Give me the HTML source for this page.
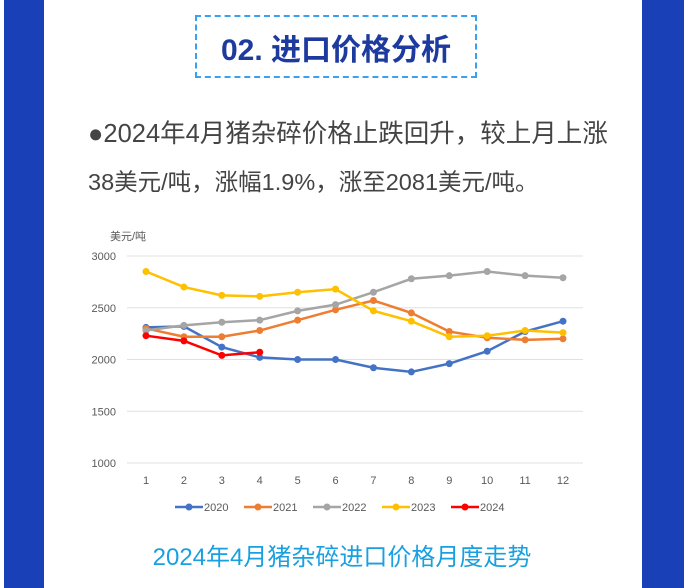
<!DOCTYPE html>
<html><head><meta charset="utf-8"><style>
body{margin:0;width:684px;height:588px;overflow:hidden;background:#fff;font-family:"Liberation Sans","Noto Sans CJK SC",sans-serif;position:relative}
.band{position:absolute;top:0;height:588px;background:#1a40b8}
#title{position:absolute;left:195px;top:15px;width:278px;height:59px;border:2px dashed #3aa0f0;display:flex;align-items:center;justify-content:center;color:#1d3a9e;font-weight:bold;font-size:30px}
.para{position:absolute;left:88px;color:#444;white-space:nowrap}
#cap{position:absolute;left:0;width:684px;top:537px;text-align:center;font-size:24px;color:#1aa0e0}
</style></head><body>
<div class="band" style="left:4px;width:40px"></div>
<div class="band" style="left:642px;width:42px"></div>
<div id="title">02. 进口价格分析</div>
<div class="para" style="top:113px;font-size:25.5px">●2024年4月猪杂碎价格止跌回升，较上月上涨</div>
<div class="para" style="top:163px;font-size:23.5px">38美元/吨，涨幅1.9%，涨至2081美元/吨。</div>
<svg id="chart" width="684" height="588" style="position:absolute;left:0;top:0"></svg>
<div id="cap">2024年4月猪杂碎进口价格月度走势</div>
<script>
const months=[1,2,3,4,5,6,7,8,9,10,11,12];
const yTicks=[1000,1500,2000,2500,3000];
const seriesNames=["2020","2021","2022","2023","2024"];
const seriesColors=["#4472c4","#ed7d31","#a5a5a5","#ffc000","#ff0000"];
const s2020=[2310,2320,2120,2020,2000,2000,1920,1880,1960,2080,2270,2370];
const s2021=[2300,2220,2220,2280,2380,2480,2570,2450,2270,2210,2190,2200];
const s2022=[2280,2330,2360,2380,2470,2530,2650,2780,2810,2850,2810,2790];
const s2023=[2850,2700,2620,2610,2650,2680,2470,2370,2220,2230,2280,2260];
const s2024=[2230,2180,2040,2070];
const allSeries=[s2020,s2021,s2022,s2023,s2024];
const NS="http://www.w3.org/2000/svg";
const svg=document.getElementById('chart');
const x=m=>146+(m-1)*(563-146)/11;
const y=v=>463-(v-1000)*(463-256)/2000;
function mk(t,a){const e=document.createElementNS(NS,t);for(const k in a)e.setAttribute(k,a[k]);svg.appendChild(e);return e;}
yTicks.forEach(v=>{
 const g=mk('line',{x1:127,x2:583,y1:y(v),y2:y(v),stroke:'#e0e0e0','stroke-width':1});
 
 
 const t=mk('text',{x:116,y:y(v)+4,'text-anchor':'end','font-size':11,fill:'#595959'});
 t.textContent=v;
 
 
});
months.forEach(m=>{
 const t=mk('text',{x:x(m),y:484,'text-anchor':'middle','font-size':11,fill:'#595959'});
 t.textContent=m;
 
 
});
const yl=mk('text',{x:110,y:240,'font-size':11,fill:'#595959'});
yl.textContent='美元/吨';


allSeries.forEach((s,i)=>{
 const pl=mk('polyline',{points:s.map((v,j)=>x(months[j])+','+y(v)).join(' '),fill:'none',stroke:seriesColors[i],'stroke-width':2.5});
 
 
 s.forEach((v,j)=>{
  const c=mk('circle',{cx:x(months[j]),cy:y(v),r:3.5,fill:seriesColors[i]});
  
  
 });
 const lx=175+i*69;
 const ll=mk('line',{x1:lx,x2:lx+28,y1:507,y2:507,stroke:seriesColors[i],'stroke-width':2.5});
 
 
 const lc=mk('circle',{cx:lx+14,cy:507,r:3.5,fill:seriesColors[i]});
 
 
 const lt=mk('text',{x:lx+29,y:511,'font-size':11,fill:'#595959'});
 lt.textContent=seriesNames[i];
 
 
});
</script>
</body></html>
